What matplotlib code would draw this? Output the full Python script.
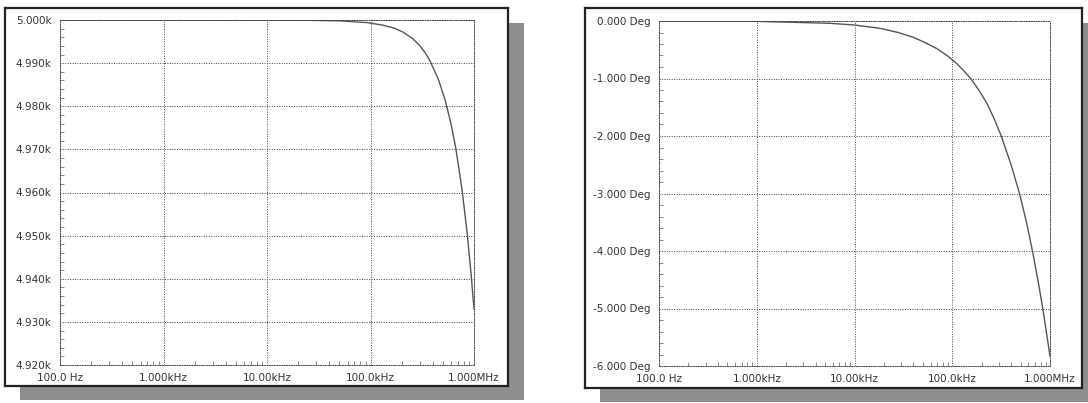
import numpy as np
import matplotlib.pyplot as plt
from matplotlib.patches import Rectangle
from matplotlib.ticker import FixedLocator, MultipleLocator, NullFormatter

# Magnitude curve
mag_freq = [100, 1e3, 10e3, 20e3, 50.7e3, 92.5e3, 132e3, 170e3, 206e3, 255e3,
            301e3, 340e3, 376e3, 452e3, 525e3, 600e3, 670e3, 766e3, 855e3,
            935e3, 1e6]
mag_k = [5.000, 5.000, 5.000, 4.99995, 4.9998, 4.9994, 4.9988, 4.9981, 4.9972,
         4.9957, 4.9940, 4.9923, 4.9905, 4.9863, 4.9815, 4.9759, 4.9700,
         4.9607, 4.9510, 4.9414, 4.9330]

# Phase curve
ph_freq = [100, 1e3, 5.6e3, 10e3, 18.2e3, 28e3, 39.5e3, 52e3, 69.6e3, 90e3,
           111e3, 132e3, 158e3, 190e3, 226e3, 265e3, 314e3, 400e3, 491e3,
           580e3, 667e3, 760e3, 844e3, 920e3, 1e6]
ph_deg = [0.0, -0.006, -0.04, -0.07, -0.127, -0.20, -0.28, -0.37, -0.48,
          -0.61, -0.74, -0.87, -1.02, -1.22, -1.43, -1.68, -1.98, -2.50,
          -3.02, -3.53, -4.03, -4.55, -5.0, -5.42, -5.83]

x_ticks = [100, 1e3, 10e3, 100e3, 1e6]
x_labels = ['100.0 Hz', '1.000kHz', '10.00kHz', '100.0kHz', '1.000MHz']
mag_ticks = [4.920, 4.930, 4.940, 4.950, 4.960, 4.970, 4.980, 4.990, 5.000]
mag_labels = ['4.920k', '4.930k', '4.940k', '4.950k', '4.960k', '4.970k',
              '4.980k', '4.990k', '5.000k']
ph_ticks = [-6, -5, -4, -3, -2, -1, 0]
ph_labels = ['-6.000 Deg', '-5.000 Deg', '-4.000 Deg', '-3.000 Deg',
             '-2.000 Deg', '-1.000 Deg', '0.000 Deg']

W, H = 1088, 403
fig = plt.figure(figsize=(W / 100, H / 100), dpi=100)
fig.patch.set_facecolor('white')


def box(x0, y0, x1, y1):
    # pixel box (top-left origin) -> figure fraction rect
    return [x0 / W, 1 - y1 / H, (x1 - x0) / W, (y1 - y0) / H]


def panel(frame, plot, xs, ys, yticks, ylabels, ylim, yminor):
    fx0, fy0, fx1, fy1 = frame
    # drop shadow
    sh = box(fx0 + 15, fy0 + 15, fx1 + 16, fy1 + 14)
    fig.patches.append(Rectangle((sh[0], sh[1]), sh[2], sh[3], transform=fig.transFigure,
                                 facecolor='#8e8e8e', edgecolor='none', zorder=0))
    fr = fig.add_axes(box(*frame), zorder=1)
    fr.set_xticks([])
    fr.set_yticks([])
    fr.set_facecolor('white')
    for s in fr.spines.values():
        s.set_linewidth(1.6)
        s.set_color('#222222')

    ax = fig.add_axes(box(*plot), zorder=2)
    ax.set_facecolor('none')
    ax.plot(xs, ys, color='#555555', lw=1.0)
    ax.set_xscale('log')
    ax.set_xlim(100, 1e6)
    ax.set_ylim(*ylim)
    ax.set_xticks(x_ticks)
    ax.set_xticklabels(x_labels)
    ax.set_yticks(yticks)
    ax.set_yticklabels(ylabels)
    ax.xaxis.set_minor_locator(FixedLocator(
        [m * 10 ** e for e in range(2, 6) for m in range(2, 10)]))
    ax.xaxis.set_minor_formatter(NullFormatter())
    ax.yaxis.set_minor_locator(MultipleLocator(yminor))
    ax.grid(True, which='major', linestyle=(0, (1, 1.5)), color='#444444', lw=0.7)
    ax.tick_params(which='major', length=0, labelsize=7.5, labelcolor='#333333', pad=6)
    ax.tick_params(which='minor', direction='in', length=3, width=0.6, color='#777777')
    for s in ax.spines.values():
        s.set_linestyle((0, (1, 1.5)))
        s.set_linewidth(0.7)
        s.set_color('#444444')
    return ax


panel((5, 8, 508, 386), (60, 20, 474, 365), mag_freq, mag_k,
      mag_ticks, mag_labels, (4.920, 5.000), 0.002)
panel((585, 8, 1082, 388), (659, 21, 1050, 366), ph_freq, ph_deg,
      ph_ticks, ph_labels, (-6, 0), 0.2)

fig.savefig('out.png', dpi=100)
